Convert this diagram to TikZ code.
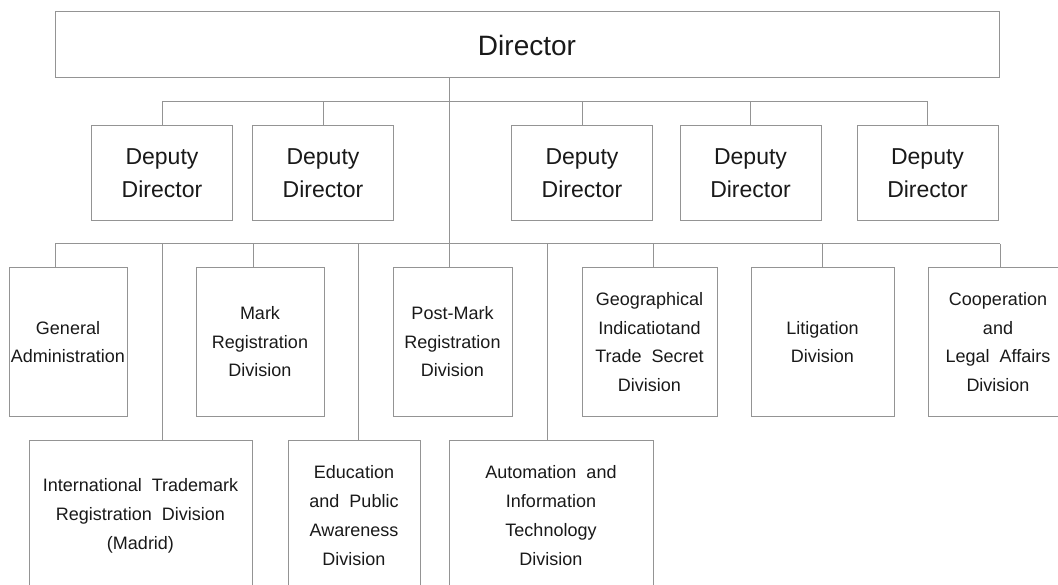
\documentclass[tikz,border=0pt]{standalone}
\usepackage{fontspec}
\setmainfont{Liberation Sans}
\usetikzlibrary{positioning}

\begin{document}
\begin{tikzpicture}[x=1pt,y=-1pt,
  box/.style={draw=black!42,line width=1pt,inner sep=0pt,align=center,text=black!90},
  dep/.style={box,minimum width=141pt,minimum height=95pt,font=\fontsize{23}{33}\selectfont},
  div/.style={box,minimum height=148pt,font=\fontsize{18}{28.5}\selectfont},
  low/.style={box,minimum height=152pt,font=\fontsize{18}{29}\selectfont},
  link/.style={draw=black!42,line width=1pt}]
\useasboundingbox (0,0) rectangle (1058,585);
\clip (0,0) rectangle (1058,585);

\node (D0) at (527,45) [box,minimum width=944pt,minimum height=66pt,font=\fontsize{28}{34}\selectfont] {Director};

\node (D1) at (162,173.5)   [dep] {Deputy\\Director};
\node (D2) at (323,173.5)   [dep] {Deputy\\Director};
\node (D3) at (582,173.5)   [dep] {Deputy\\Director};
\node (D4) at (750.5,173.5) [dep] {Deputy\\Director};
\node (D5) at (927.5,173.5) [dep] {Deputy\\Director};

\node (B1) at (68,342)    [div,minimum width=118pt] {General\\Administration};
\node (B2) at (260,342)   [div,minimum width=128pt] {Mark\\Registration\\Division};
\node (B3) at (452.5,342) [div,minimum width=119pt] {Post-Mark\\Registration\\Division};
\node (B4) at (649.5,342) [div,minimum width=135pt] {Geographical\\Indicatiotand\\Trade~~Secret\\Division};
\node (B5) at (822.5,342) [div,minimum width=143pt] {Litigation\\Division};
\node (B6) at (998,342)   [div,minimum width=140pt] {Cooperation\\and\\Legal~~Affairs\\Division};

\node (C1) at (140.5,516) [low,minimum width=223pt] {International~~Trademark\\Registration~~Division\\(Madrid)};
\node (C2) at (354,516)   [low,minimum width=132pt] {Education\\and~~Public\\Awareness\\Division};
\node (C3) at (551,516)   [low,minimum width=204pt] {Automation~~and\\Information\\Technology\\Division};

\coordinate (trunk) at (449,244);
\draw[link] (D0.south -| trunk) -- (trunk |- B3.north);
\draw[link] (D1.north) -- ++(0,-24) -| (D5.north);
\foreach \n in {2,3,4}
  \draw[link] (D\n.north) -- ++(0,-24);

\coordinate (e1) at (55,244);
\coordinate (e2) at (162,244);
\coordinate (e3) at (253,244);
\coordinate (e4) at (358,244);
\coordinate (e5) at (547,244);
\coordinate (e6) at (653,244);
\coordinate (e7) at (822,244);
\coordinate (e8) at (1000,244);
\draw[link] (e1) -- (e8);
\foreach \e/\b in {e1/B1,e2/C1,e3/B2,e4/C2,e5/C3,e6/B4,e7/B5,e8/B6}
  \draw[link] (\e) -- (\e |- \b.north);
\end{tikzpicture}
\end{document}
